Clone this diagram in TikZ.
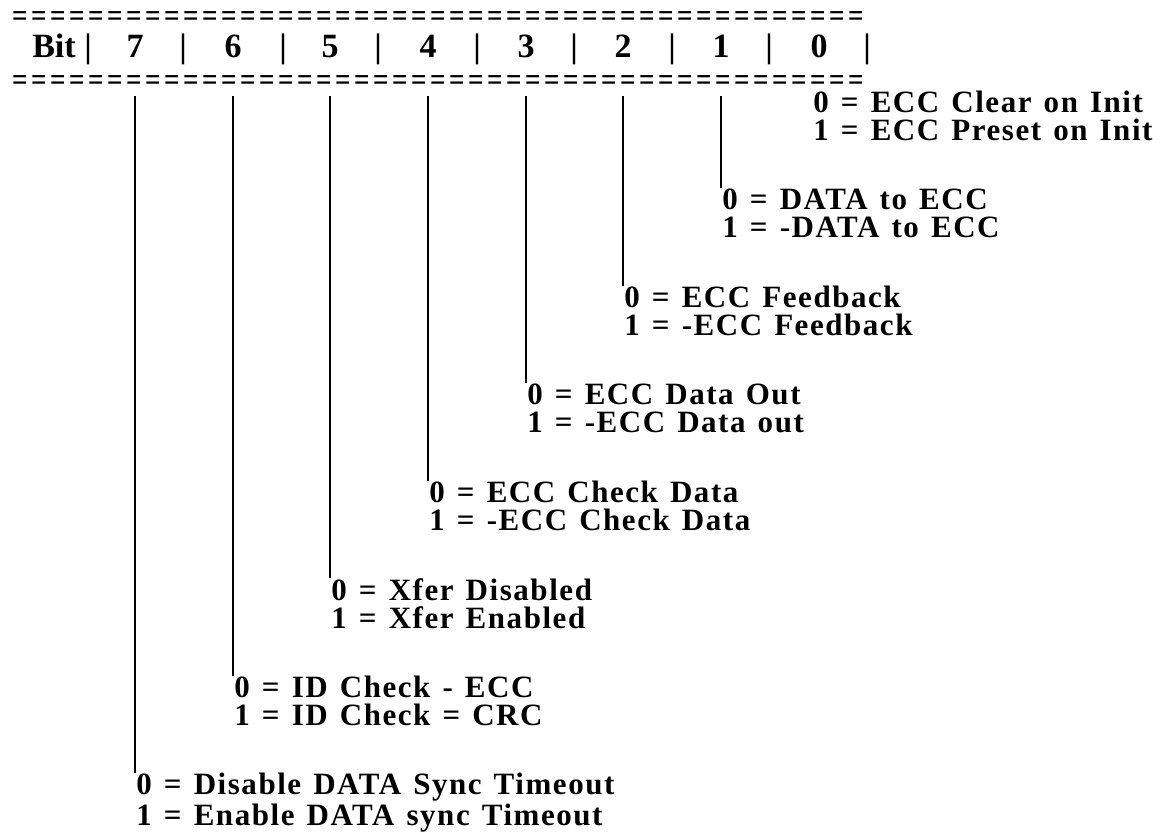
\documentclass[tikz,border=0pt]{standalone}
\usepackage{fontspec}
\setmainfont{Liberation Serif}
\newfontfamily\spacedfont{Liberation Serif}[LetterSpace=5,WordSpace=1.3]
\usepackage{tikz}

\begin{document}
\begin{tikzpicture}[x=0.5pt,y=-0.5pt,
    hdr/.style={font=\fontsize{17}{20}\selectfont\bfseries,inner sep=0pt,anchor=base},
    lbl/.style={font=\fontsize{15.5}{14}\spacedfont\bfseries,inner sep=0pt,anchor=north west,align=left},
    eqrow/.style={font=\fontsize{16}{18}\selectfont\bfseries,inner sep=0pt,anchor=base west},
    stem/.style={line width=1pt}]
  \useasboundingbox (0,0) rectangle (1174,831);
  % rows of = signs
  \node[eqrow] (toprule) at (10,26) {\foreach \i in {1,...,45}{\makebox[9.5pt]{\scalebox{0.85}[1]{=}}}};
  \node[eqrow] (botrule) at (10,90) {\foreach \i in {1,...,45}{\makebox[9.5pt]{\scalebox{0.85}[1]{=}}}};
  % header
  \node[hdr] (bit) at (54,57) {Bit};
  \foreach \n/\x in {7/135,6/233,5/330,4/428,3/526,2/623,1/721,0/819}
    \node[hdr] (d\n) at (\x,57) {\n};
  \foreach \x [count=\i] in {88,183,283,378,477,574,672,769,867}
    \node[hdr] (bar\i) at (\x,57) {|};
  % bit 0 has no stem
  \node[lbl] (l0) at (813,90.5) {0 = ECC Clear on Init\\1 = ECC Preset on Init};
  \foreach \n/\a/\b [evaluate=\n as \yy using 90.5+97.5*\n] in
    {1/DATA to ECC/-DATA to ECC,
     2/ECC Feedback/-ECC Feedback,
     3/ECC Data Out/-ECC Data out,
     4/ECC Check Data/-ECC Check Data,
     5/Xfer Disabled/Xfer Enabled,
     6/ID Check - ECC/ID Check = CRC,
     7/Disable DATA Sync Timeout/Enable DATA sync Timeout}
  {
    \node[lbl] (l\n) at ([xshift=0.5pt]d\n |- 0,\yy) {0 = \a\\1 = \b};
    \draw[stem] ([yshift=-3pt]d\n |- botrule.south) -- (d\n |- l\n.north);
  }
\end{tikzpicture}
\end{document}
